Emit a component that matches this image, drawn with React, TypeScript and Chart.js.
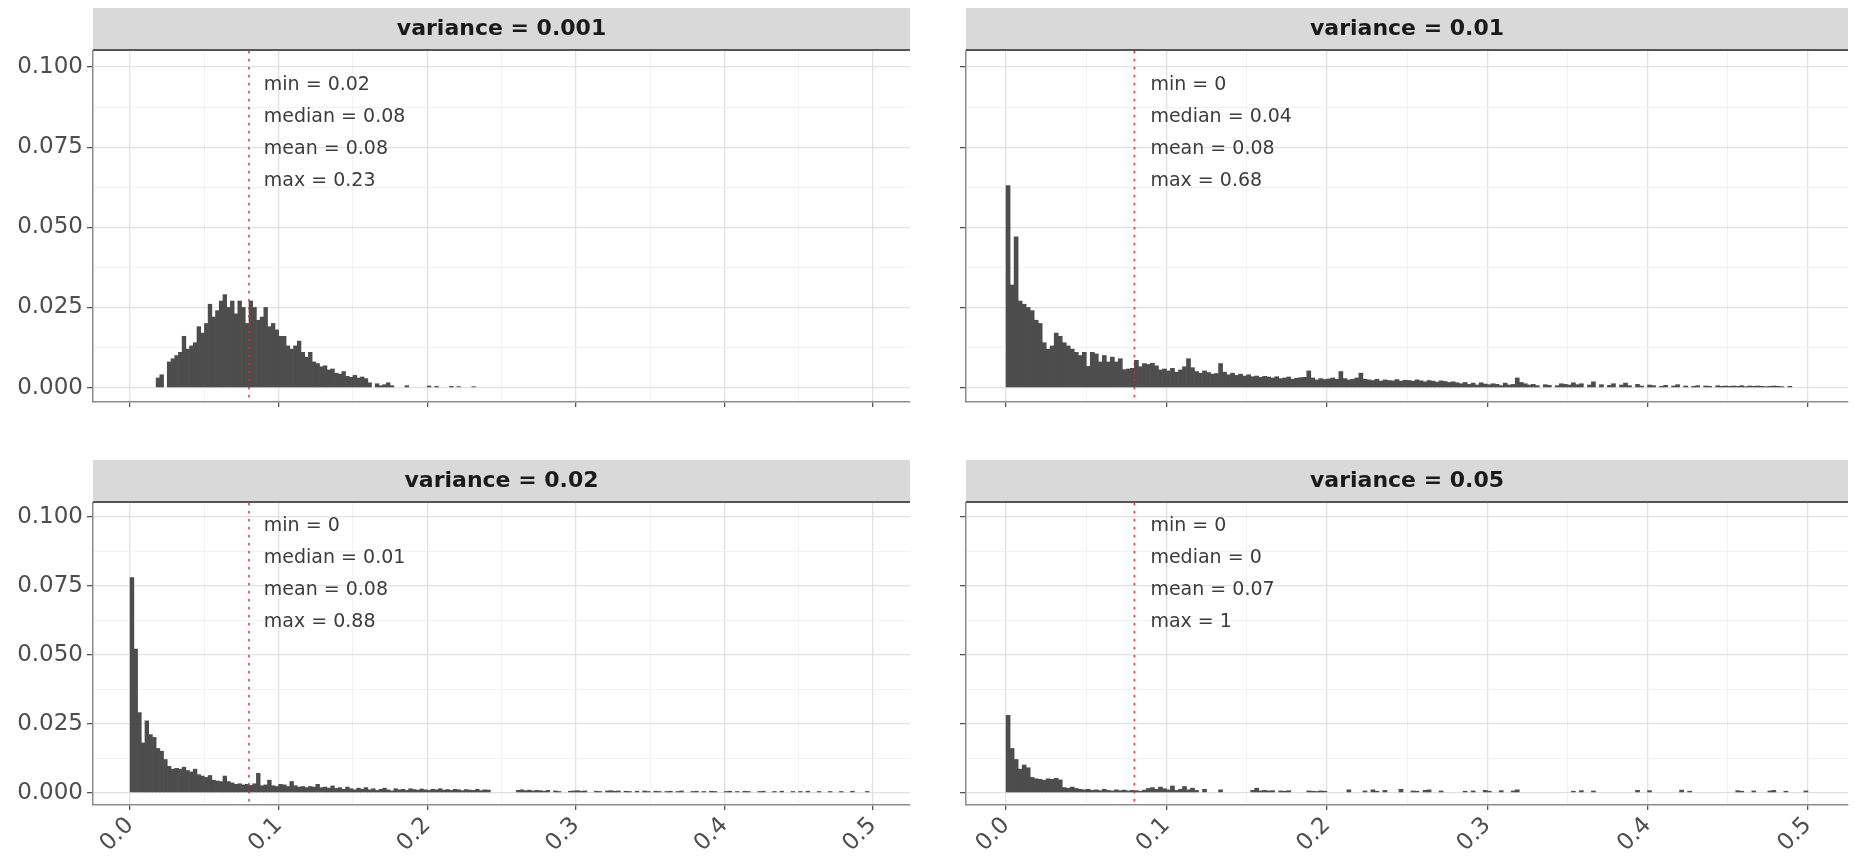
import React, { useEffect, useRef } from 'react';
import { Chart, registerables } from 'chart.js';

Chart.register(...registerables);

// ---------- data ----------
const BIN_WIDTH = 0.0025;
const X_MAJOR = [0, 0.1, 0.2, 0.3, 0.4, 0.5];
const X_MINOR = [0.05, 0.15, 0.25, 0.35, 0.45];
const Y_MAJOR = [0, 0.025, 0.05, 0.075, 0.1];
const Y_MINOR = [0.0125, 0.0375, 0.0625, 0.0875];
const X_RANGE = [-0.025, 0.525];
const Y_RANGE = [-0.0045, 0.105];
const MEAN_LINE_X = 0.08;
const LABEL_X = 0.09;
const LABEL_CENTER_Y = 0.0794;

const TITLE_V001 = 'variance = 0.001';
const TITLE_V01 = 'variance = 0.01';
const TITLE_V02 = 'variance = 0.02';
const TITLE_V05 = 'variance = 0.05';

const STATS_V001 = ['min = 0.02', 'median = 0.08', 'mean = 0.08', 'max = 0.23'];
const STATS_V01 = ['min = 0', 'median = 0.04', 'mean = 0.08', 'max = 0.68'];
const STATS_V02 = ['min = 0', 'median = 0.01', 'mean = 0.08', 'max = 0.88'];
const STATS_V05 = ['min = 0', 'median = 0', 'mean = 0.07', 'max = 1'];

// bin heights (proportion), bins of BIN_WIDTH starting at 0
const VALUES_V001 = [
  0, 0, 0, 0, 0, 0, 0, 0.003, 0.004, 0,
  0.008, 0.009, 0.010, 0.011, 0.016, 0.012, 0.013, 0.014, 0.019, 0.017,
  0.020, 0.026, 0.022, 0.024, 0.027, 0.029, 0.025, 0.027, 0.023, 0.027,
  0.025, 0.020, 0.027, 0.025, 0.021, 0.022, 0.025, 0.019, 0.020, 0.018,
  0.016, 0.016, 0.013, 0.012, 0.013, 0.0145, 0.011, 0.0095, 0.011, 0.008,
  0.0075, 0.0065, 0.0068, 0.0055, 0.0058, 0.0045, 0.0042, 0.005, 0.0035, 0.0032,
  0.0038, 0.003, 0.0033, 0.0028, 0.0015, 0, 0.0012, 0.0006, 0.0009, 0.0015,
  0.0006, 0, 0, 0, 0.0006, 0, 0, 0, 0, 0,
  0.0005, 0, 0.0004, 0, 0, 0, 0.0004, 0, 0.0003, 0,
  0, 0, 0.0003,
];

const VALUES_V01 = [
  0.063, 0.032, 0.047, 0.027, 0.026, 0.025, 0.024, 0.021, 0.020, 0.014,
  0.012, 0.013, 0.017, 0.016, 0.014, 0.013, 0.012, 0.011, 0.010, 0.011,
  0.0066, 0.011, 0.0105, 0.008, 0.010, 0.008, 0.0095, 0.008, 0.009, 0.0056,
  0.0058, 0.006, 0.0085, 0.0065, 0.0075, 0.0072, 0.0076, 0.0068, 0.0055, 0.0058,
  0.0052, 0.006, 0.0048, 0.0055, 0.0065, 0.009, 0.0062, 0.005, 0.0045, 0.0052,
  0.0047, 0.0042, 0.0044, 0.0075, 0.0048, 0.004, 0.0045, 0.0038, 0.0042, 0.0036,
  0.004, 0.0034, 0.0036, 0.0032, 0.0035, 0.0033, 0.003, 0.0034, 0.0028, 0.003,
  0.0033, 0.0026, 0.0029, 0.0031, 0.0032, 0.0052, 0.003, 0.0024, 0.0028, 0.0025,
  0.0027, 0.003, 0.0026, 0.005, 0.0028, 0.0024, 0.0026, 0.003, 0.0045, 0.0026,
  0.0024, 0.0022, 0.0026, 0.002, 0.0024, 0.0022, 0.0021, 0.0025, 0.002, 0.0023,
  0.0022, 0.002, 0.0024, 0.0021, 0.0018, 0.0022, 0.002, 0.0017, 0.0021, 0.0019,
  0.0016, 0.0018, 0.0015, 0.0012, 0.0016, 0.001, 0.0014, 0.0008, 0.0015, 0.0011,
  0.0009, 0.0012, 0.001, 0.0006, 0.0014, 0.0008, 0.001, 0.003, 0.0016, 0.0012,
  0.0008, 0.001, 0.0006, 0, 0.0009, 0.0007, 0, 0.0006, 0.0012, 0.001,
  0.0008, 0.0015, 0.0009, 0.0012, 0, 0.0008, 0.0018, 0, 0.0009, 0,
  0.0007, 0.0012, 0, 0.0008, 0.0014, 0.0006, 0, 0.001, 0.0005, 0,
  0.0008, 0.0006, 0, 0.0004, 0.0007, 0, 0.0005, 0.0009, 0, 0.0005,
  0, 0.0004, 0.0006, 0, 0.0005, 0.0004, 0, 0.0006, 0.0004, 0.0005,
  0.0004, 0.0005, 0.0004, 0.0006, 0.0003, 0.0005, 0.0004, 0.0005, 0.0004, 0.0003,
  0.0004, 0.0005, 0.0004, 0.0003, 0, 0.0004, 0, 0, 0, 0,
];

const VALUES_V02 = [
  0.078, 0.052, 0.029, 0.018, 0.026, 0.021, 0.020, 0.016, 0.015, 0.012,
  0.0095, 0.0085, 0.0088, 0.0085, 0.0092, 0.008, 0.0075, 0.0085, 0.0065, 0.006,
  0.0055, 0.0062, 0.0045, 0.0042, 0.004, 0.006, 0.004, 0.0035, 0.003, 0.0032,
  0.0028, 0.003, 0.0026, 0.0032, 0.007, 0.0025, 0.0028, 0.0045, 0.0025, 0.0022,
  0.003, 0.0028, 0.0022, 0.004, 0.0025, 0.002, 0.0022, 0.0018, 0.0022, 0.002,
  0.003, 0.0018, 0.002, 0.0016, 0.0024, 0.0015, 0.0018, 0.0012, 0.002, 0.0014,
  0.001, 0.0016, 0.0012, 0.0018, 0.001, 0.0014, 0.0008, 0.0012, 0.0016, 0.001,
  0.0006, 0.0014, 0.001, 0.0012, 0.0008, 0.0014, 0.0011, 0.0009, 0.0013, 0.001,
  0.0008, 0.0012, 0.001, 0.0014, 0.0009, 0.0011, 0.0008, 0.0012, 0.001, 0.0007,
  0.0011, 0.0009, 0.0008, 0.0012, 0.0007, 0.001, 0.0009, 0, 0, 0,
  0, 0, 0, 0, 0.0008, 0.001, 0.0007, 0.0009, 0.0006, 0.0008,
  0.0007, 0.0005, 0.0008, 0, 0.0006, 0.0004, 0, 0, 0.0005, 0.0006,
  0.0007, 0.0005, 0.0006, 0, 0, 0.0005, 0.0004, 0, 0.0006, 0.0007,
  0.0005, 0.0006, 0, 0.0005, 0.0004, 0, 0.0005, 0, 0.0006, 0.0004,
  0, 0.0005, 0.0004, 0, 0.0004, 0.0005, 0, 0.0004, 0.0006, 0,
  0, 0.0004, 0.0005, 0, 0.0004, 0, 0.0005, 0.0004, 0, 0,
  0.0004, 0.0005, 0, 0.0004, 0, 0.0005, 0.0004, 0, 0, 0.0004,
  0.0005, 0, 0, 0.0004, 0, 0.0005, 0, 0, 0.0004, 0,
  0.0004, 0, 0.0005, 0, 0, 0.0004, 0, 0, 0.0004, 0,
  0, 0.0004, 0, 0, 0.0005, 0, 0, 0, 0.0004, 0,
];

const VALUES_V05 = [
  0.028, 0.016, 0.012, 0.0085, 0.010, 0.009, 0.0055, 0.005, 0.0048, 0.0045,
  0.005, 0.0048, 0.0052, 0.0046, 0.0018, 0.0016, 0.002, 0.0015, 0.0012, 0.001,
  0.0012, 0.0008, 0.001, 0.0007, 0.0012, 0.0008, 0.0006, 0.001, 0.0007, 0.0009,
  0.0006, 0.0008, 0.0007, 0.0005, 0.0009, 0.0015, 0.0018, 0.0012, 0.002, 0.0014,
  0.001, 0.0024, 0.0008, 0.0012, 0.0022, 0.001, 0.0016, 0.0008, 0, 0.0012,
  0, 0, 0, 0.001, 0, 0, 0, 0, 0, 0,
  0, 0.0008, 0.0016, 0.0006, 0.0008, 0.0006, 0.0007, 0, 0.0006, 0.0005,
  0.0007, 0, 0, 0, 0, 0.0006, 0.0005, 0.0004, 0.0006, 0.0005,
  0, 0, 0, 0, 0, 0.001, 0, 0, 0, 0.0006,
  0, 0.001, 0.0005, 0, 0.0008, 0, 0, 0, 0.0012, 0,
  0, 0.0006, 0.0005, 0, 0.0008, 0.001, 0, 0, 0.0006, 0,
  0, 0, 0, 0, 0.0005, 0, 0.0006, 0, 0, 0.0008,
  0.0005, 0, 0, 0.0007, 0, 0, 0.0006, 0.001, 0, 0,
  0, 0, 0, 0, 0, 0, 0, 0, 0, 0,
  0, 0.0005, 0, 0.0007, 0, 0, 0.0006, 0, 0, 0,
  0, 0, 0, 0, 0, 0, 0, 0.0008, 0, 0,
  0.0007, 0, 0, 0, 0, 0, 0, 0, 0.0009, 0,
  0.0005, 0, 0, 0, 0, 0, 0, 0, 0, 0,
  0, 0, 0.0007, 0.0005, 0, 0, 0.0006, 0, 0, 0,
  0.0006, 0.0008, 0, 0, 0.0005, 0, 0, 0, 0, 0.0006,
];

// ---------- styling ----------
const FONT_FAMILY = "'DejaVu Sans', 'Liberation Sans', Arial, sans-serif";
const STRIP_HEIGHT = 43;
const LINE_SPACING = 32;

type PanelSpec = {
  title: string;
  stats: string[];
  values: number[];
  left: number;
  top: number;
  width: number;
  height: number;
  areaLeft: number;
  areaTop: number;
  areaRight: number;
  areaBottom: number;
  yLabels: boolean;
  xLabels: boolean;
};

const PANELS: PanelSpec[] = [
  { title: TITLE_V001, stats: STATS_V001, values: VALUES_V001, left: 0, top: 0, width: 920, height: 420, areaLeft: 93, areaTop: 51, areaRight: 910, areaBottom: 402, yLabels: true, xLabels: false },
  { title: TITLE_V01, stats: STATS_V01, values: VALUES_V01, left: 920, top: 0, width: 934, height: 420, areaLeft: 966, areaTop: 51, areaRight: 1848, areaBottom: 402, yLabels: false, xLabels: false },
  { title: TITLE_V02, stats: STATS_V02, values: VALUES_V02, left: 0, top: 440, width: 920, height: 419, areaLeft: 93, areaTop: 503, areaRight: 910, areaBottom: 805, yLabels: true, xLabels: true },
  { title: TITLE_V05, stats: STATS_V05, values: VALUES_V05, left: 920, top: 440, width: 934, height: 419, areaLeft: 966, areaTop: 503, areaRight: 1848, areaBottom: 805, yLabels: false, xLabels: true },
];

const near = (v: number, list: number[]) => list.some((m) => Math.abs(m - v) < 1e-9);

function Panel({ spec }: { spec: PanelSpec }) {
  const ref = useRef<HTMLCanvasElement | null>(null);

  useEffect(() => {
    const canvas = ref.current;
    if (!canvas) return;
    const yAxisWidth = spec.areaLeft - spec.left;
    const xAxisHeight = spec.top + spec.height - spec.areaBottom;
    const padTop = spec.areaTop - spec.top;
    const padRight = spec.left + spec.width - spec.areaRight;

    const data = spec.values
      .map((v, i) => ({ x: (i + 0.5) * BIN_WIDTH, y: v }))
      .filter((p) => p.y > 0);

    const stripPlugin = {
      id: 'strip',
      afterDraw(chart: any) {
        const { ctx, chartArea } = chart;
        ctx.save();
        ctx.fillStyle = '#d9d9d9';
        ctx.fillRect(chartArea.left, chartArea.top - STRIP_HEIGHT, chartArea.right - chartArea.left, STRIP_HEIGHT);
        ctx.strokeStyle = '#555555';
        ctx.lineWidth = 2;
        ctx.beginPath();
        ctx.moveTo(chartArea.left, chartArea.top - 1);
        ctx.lineTo(chartArea.right, chartArea.top - 1);
        ctx.stroke();
        ctx.fillStyle = '#1a1a1a';
        ctx.font = `bold 22px ${FONT_FAMILY}`;
        ctx.textAlign = 'center';
        ctx.textBaseline = 'middle';
        ctx.fillText(spec.title, (chartArea.left + chartArea.right) / 2, chartArea.top - STRIP_HEIGHT / 2);
        ctx.restore();
      },
    };

    const annotationPlugin = {
      id: 'annot',
      afterDatasetsDraw(chart: any) {
        const { ctx, chartArea, scales } = chart;
        const x = scales.x;
        const y = scales.y;
        const px = x.getPixelForValue(MEAN_LINE_X);
        ctx.save();
        ctx.strokeStyle = 'rgba(235,35,40,0.9)';
        ctx.lineWidth = 1.6;
        ctx.setLineDash([2.5, 5.5]);
        ctx.beginPath();
        ctx.moveTo(px, chartArea.top);
        ctx.lineTo(px, chartArea.bottom);
        ctx.stroke();
        ctx.setLineDash([]);
        ctx.fillStyle = '#3c3c3c';
        ctx.font = `19px ${FONT_FAMILY}`;
        ctx.textAlign = 'left';
        ctx.textBaseline = 'middle';
        const tx = x.getPixelForValue(LABEL_X);
        const cy = y.getPixelForValue(LABEL_CENTER_Y);
        const n = spec.stats.length;
        spec.stats.forEach((s, i) => ctx.fillText(s, tx, cy + (i - (n - 1) / 2) * LINE_SPACING));
        ctx.restore();
      },
    };

    const chart = new Chart(canvas, {
      type: 'bar',
      data: {
        datasets: [
          {
            data,
            backgroundColor: '#4d4d4d',
            borderWidth: 0,
            barPercentage: 1,
            categoryPercentage: 1,
          } as any,
        ],
      },
      options: {
        animation: false,
        responsive: false,
        maintainAspectRatio: false,
        layout: { padding: { top: padTop, right: padRight, left: 0, bottom: 0 } },
        plugins: { legend: { display: false }, tooltip: { enabled: false }, title: { display: false } },
        scales: {
          x: {
            type: 'linear',
            min: X_RANGE[0],
            max: X_RANGE[1],
            offset: false,
            afterBuildTicks: (scale: any) => {
              scale.ticks = [...X_MAJOR, ...X_MINOR].sort((a, b) => a - b).map((v) => ({ value: v }));
            },
            afterFit: (scale: any) => {
              scale.height = xAxisHeight;
            },
            grid: {
              offset: false,
              drawOnChartArea: true,
              color: (c: any) => (c.tick && near(c.tick.value, X_MAJOR) ? '#e2e2e2' : '#f0f0f0'),
              lineWidth: (c: any) => (c.tick && near(c.tick.value, X_MAJOR) ? 1.3 : 0.9),
              tickColor: (c: any) => (c.tick && near(c.tick.value, X_MAJOR) ? '#555555' : 'rgba(0,0,0,0)'),
              tickLength: 5,
              tickWidth: 1.3,
            },
            border: { display: true, color: '#8c8c8c', width: 1.5 },
            ticks: {
              autoSkip: false,
              minRotation: 45,
              maxRotation: 45,
              padding: 2,
              color: '#4d4d4d',
              font: { family: FONT_FAMILY, size: 23 },
              callback: (v: any) => (spec.xLabels && near(Number(v), X_MAJOR) ? Number(v).toFixed(1) : ''),
            },
          },
          y: {
            type: 'linear',
            min: Y_RANGE[0],
            max: Y_RANGE[1],
            afterBuildTicks: (scale: any) => {
              scale.ticks = [...Y_MAJOR, ...Y_MINOR].sort((a, b) => a - b).map((v) => ({ value: v }));
            },
            afterFit: (scale: any) => {
              scale.width = yAxisWidth;
            },
            grid: {
              drawOnChartArea: true,
              color: (c: any) => (c.tick && near(c.tick.value, Y_MAJOR) ? '#e2e2e2' : '#f0f0f0'),
              lineWidth: (c: any) => (c.tick && near(c.tick.value, Y_MAJOR) ? 1.3 : 0.9),
              tickColor: (c: any) => (c.tick && near(c.tick.value, Y_MAJOR) ? '#555555' : 'rgba(0,0,0,0)'),
              tickLength: 6,
              tickWidth: 1.3,
            },
            border: { display: true, color: '#8c8c8c', width: 1.5 },
            ticks: {
              autoSkip: false,
              padding: 4,
              color: '#4d4d4d',
              font: { family: FONT_FAMILY, size: 23 },
              callback: (v: any) => (spec.yLabels && near(Number(v), Y_MAJOR) ? Number(v).toFixed(3) : ''),
            },
          },
        },
      } as any,
      plugins: [annotationPlugin, stripPlugin],
    });

    return () => chart.destroy();
  }, [spec]);

  return (
    <canvas
      ref={ref}
      width={spec.width}
      height={spec.height}
      style={{ position: 'absolute', left: spec.left, top: spec.top, width: spec.width, height: spec.height }}
    />
  );
}

export default function App() {
  return (
    <div style={{ position: 'absolute', left: 0, top: 0, width: 1854, height: 859, background: '#ffffff', overflow: 'hidden' }}>
      {PANELS.map((p) => (
        <Panel key={p.title} spec={p} />
      ))}
    </div>
  );
}
